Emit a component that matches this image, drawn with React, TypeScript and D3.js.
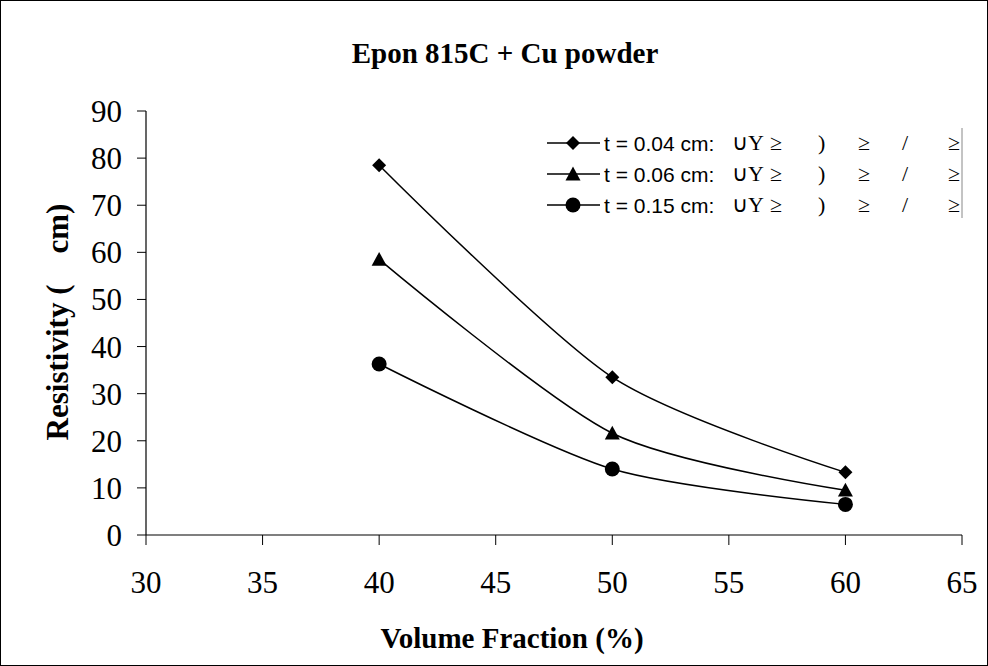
import React from "react";
import * as d3 from "d3";

const xValues = [40, 50, 60];
const seriesNames = ["t = 0.04 cm:", "t = 0.06 cm:", "t = 0.15 cm:"];
const seriesMarkers = ["diamond", "triangle", "circle"];
const series004 = [78.5, 33.5, 13.3];
const series006 = [58.5, 21.6, 9.5];
const series015 = [36.3, 14.0, 6.5];
const xTicks = [30, 35, 40, 45, 50, 55, 60, 65];
const yTicks = [0, 10, 20, 30, 40, 50, 60, 70, 80, 90];
const legendSuffix = ["\u222AY", "\u2265", ")", "\u2265", "/", "\u2265"];
const legendSuffixOffsets = [0, 38, 86, 126, 170, 216];

const W = 988;
const H = 666;
const SERIF = "Liberation Serif, Times New Roman, serif";

export default function App() {
  const x = d3.scaleLinear().domain([30, 65]).range([146, 962]);
  const y = d3.scaleLinear().domain([0, 90]).range([535, 111]);
  const allSeries = [series004, series006, series015];
  const line = d3
    .line<number>()
    .x((_, i) => x(xValues[i]))
    .y((d) => y(d))
    .curve(d3.curveCardinal.tension(0.2));

  const marker = (type: string, cx: number, cy: number, key: string) => {
    if (type === "diamond") {
      const r = 7;
      return (
        <path key={key} d={`M${cx},${cy - r}L${cx + r},${cy}L${cx},${cy + r}L${cx - r},${cy}Z`} fill="#000" />
      );
    }
    if (type === "triangle") {
      const r = 7.5;
      return (
        <path key={key} d={`M${cx},${cy - r}L${cx + r},${cy + r * 0.85}L${cx - r},${cy + r * 0.85}Z`} fill="#000" />
      );
    }
    return <circle key={key} cx={cx} cy={cy} r={7.5} fill="#000" />;
  };

  const legendY = [143, 174, 205];

  return (
    <svg width={W} height={H} style={{ position: "absolute", left: 0, top: 0, background: "#fff" }}>
      <rect x={0.5} y={0.5} width={W - 1} height={H - 1} fill="#fff" stroke="#000" strokeWidth={1} />
      <text x={505} y={63} textAnchor="middle" fontFamily={SERIF} fontWeight="bold" fontSize={29}>
        Epon 815C + Cu powder
      </text>

      {/* axes */}
      <line x1={146} x2={962} y1={535} y2={535} stroke="#000" strokeWidth={1.2} />
      <line x1={146} x2={146} y1={111} y2={535} stroke="#000" strokeWidth={1.2} />
      {xTicks.map((t) => (
        <g key={"xt" + t}>
          <line x1={x(t)} x2={x(t)} y1={535} y2={545} stroke="#000" />
          <text x={x(t)} y={593} textAnchor="middle" fontFamily={SERIF} fontSize={31}>
            {t}
          </text>
        </g>
      ))}
      {yTicks.map((t) => (
        <g key={"yt" + t}>
          <line x1={137} x2={146} y1={y(t)} y2={y(t)} stroke="#000" />
          <text x={122} y={y(t) + 11} textAnchor="end" fontFamily={SERIF} fontSize={31}>
            {t}
          </text>
        </g>
      ))}

      <text x={512} y={648} textAnchor="middle" fontFamily={SERIF} fontWeight="bold" fontSize={29}>
        Volume Fraction (%)
      </text>
      <text
        transform={`translate(68,322) rotate(-90)`}
        textAnchor="middle"
        fontFamily={SERIF}
        fontWeight="bold"
        fontSize={31}
        style={{ whiteSpace: "pre" }}
      >
        {"Resistivity (    cm)"}
      </text>

      {/* series */}
      {allSeries.map((s, si) => (
        <g key={"s" + si}>
          <path d={line(s) || ""} fill="none" stroke="#000" strokeWidth={1.5} />
          {s.map((v, i) => marker(seriesMarkers[si], x(xValues[i]), y(v), `m${si}-${i}`))}
        </g>
      ))}

      {/* legend */}
      <line x1={962} x2={962} y1={128} y2={218} stroke="#888" strokeWidth={1} />
      {seriesNames.map((name, i) => (
        <g key={"lg" + i}>
          <line x1={547} x2={600} y1={legendY[i]} y2={legendY[i]} stroke="#000" strokeWidth={1.5} />
          {marker(seriesMarkers[i], 573, legendY[i], "lm" + i)}
          <text x={604} y={legendY[i] + 8} fontFamily="Liberation Sans, Arial, sans-serif" fontSize={21}>
            {name}
          </text>
          {legendSuffix.map((sfx, j) => (
            <text
              key={"sf" + j}
              x={732 + legendSuffixOffsets[j]}
              y={legendY[i] + 7}
              fontFamily={SERIF}
              fontSize={22}
            >
              {sfx}
            </text>
          ))}
        </g>
      ))}
    </svg>
  );
}
